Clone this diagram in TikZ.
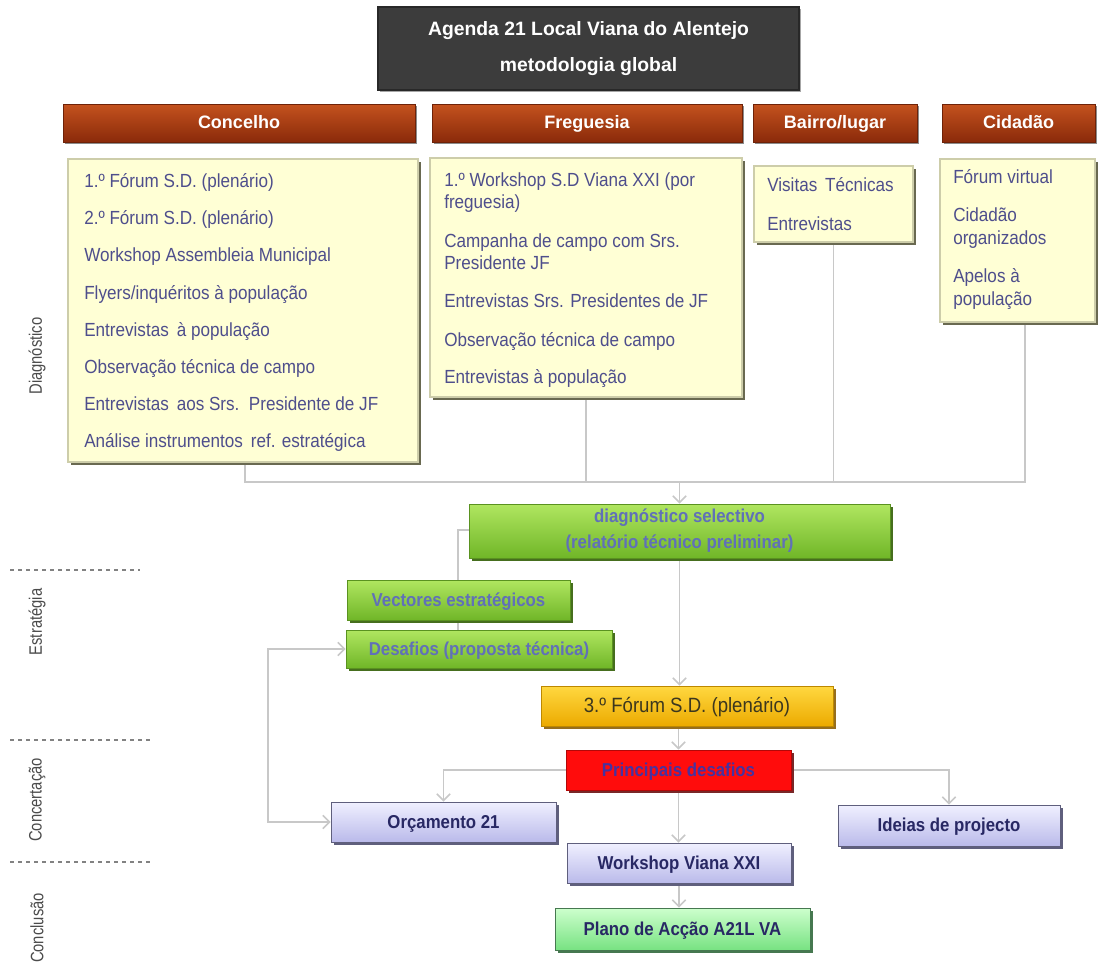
\documentclass[tikz,border=0pt]{standalone}
\usepackage{fontspec}
\setmainfont{Liberation Sans}
\newfontfamily\nar[FakeStretch=0.9]{Liberation Sans}
\newfontfamily\narr[FakeStretch=0.82]{Liberation Sans}
\usetikzlibrary{shadows,arrows.meta,calc}
\pgfdeclarelayer{bg}
\pgfsetlayers{bg,main}
\definecolor{titlebg}{RGB}{60,60,60}
\definecolor{titleedge}{RGB}{40,40,40}
\definecolor{hdrtop}{RGB}{196,82,30}
\definecolor{hdrbot}{RGB}{138,42,10}
\definecolor{ylw}{RGB}{255,255,213}
\definecolor{ylwedge}{RGB}{205,205,170}
\definecolor{ylwshadow}{RGB}{105,105,80}
\definecolor{ytext}{RGB}{78,78,140}
\definecolor{grtop}{RGB}{176,230,96}
\definecolor{grbot}{RGB}{112,182,40}
\definecolor{grshadow}{RGB}{70,110,30}
\definecolor{gtext}{RGB}{96,112,184}
\definecolor{goldtop}{RGB}{255,216,64}
\definecolor{goldbot}{RGB}{236,170,0}
\definecolor{goldshadow}{RGB}{150,110,30}
\definecolor{ftext}{RGB}{60,55,30}
\definecolor{redbox}{RGB}{255,12,12}
\definecolor{redshadow}{RGB}{120,40,40}
\definecolor{ptext}{RGB}{70,50,160}
\definecolor{lavtop}{RGB}{240,240,255}
\definecolor{lavbot}{RGB}{186,186,234}
\definecolor{lavshadow}{RGB}{95,95,125}
\definecolor{navy}{RGB}{40,40,100}
\definecolor{minttop}{RGB}{205,255,205}
\definecolor{mintbot}{RGB}{120,226,130}
\definecolor{mintshadow}{RGB}{70,120,80}
\definecolor{connc}{RGB}{200,200,200}
\definecolor{lbl}{RGB}{75,75,75}
\definecolor{dashc}{RGB}{130,130,130}
\def\pxu{0.75pt}
\tikzset{
  sz/.style 2 args={minimum width=#1*\pxu, minimum height=#2*\pxu},
  basebox/.style={rectangle, inner sep=0pt, anchor=center},
  evenh/.style 2 args={text height=#1pt, text depth=#2pt},
  titlebox/.style={basebox, fill=titlebg, draw=titleedge, line width=0.8pt,
    drop shadow={shadow xshift=1.5pt, shadow yshift=-1.5pt, fill=black, opacity=0.35},
    text=white, align=center, font=\bfseries\fontsize{14.5}{27}\selectfont},
  hdr/.style={basebox, evenh={11.5}{2.8}, top color=hdrtop, bottom color=hdrbot, draw=hdrbot!80!black, line width=0.5pt,
    drop shadow={shadow xshift=1.5pt, shadow yshift=-1.5pt, fill=black, opacity=0.45},
    text=white, font=\bfseries\fontsize{13.5}{15}\selectfont},
  ybox/.style={basebox, fill=ylw, draw=ylwedge, line width=0.8pt,
    drop shadow={shadow xshift=2.2pt, shadow yshift=-2.2pt, fill=ylwshadow, opacity=1}},
  ytxt/.style={anchor=west, inner sep=0pt, evenh={12}{3}, text=ytext, font=\nar\fontsize{14.25}{17}\selectfont},
  gbox/.style={basebox, top color=grtop, bottom color=grbot, draw=grbot!80!black, line width=0.5pt,
    drop shadow={shadow xshift=2pt, shadow yshift=-2pt, fill=grshadow, opacity=1},
    text=gtext, align=center, font=\nar\bfseries\fontsize{14}{19.5}\selectfont},
  g1box/.style={gbox, evenh={12}{3}},
  fbox/.style={basebox, evenh={13}{3.3}, top color=goldtop, bottom color=goldbot, draw=goldbot!80!black, line width=0.5pt,
    drop shadow={shadow xshift=2pt, shadow yshift=-2pt, fill=goldshadow, opacity=1},
    text=ftext, font=\nar\fontsize{15.5}{18}\selectfont},
  rbox/.style={basebox, evenh={12}{3}, fill=redbox, draw=redbox!70!black, line width=0.5pt,
    drop shadow={shadow xshift=2pt, shadow yshift=-2pt, fill=redshadow, opacity=1},
    text=ptext, font=\nar\bfseries\fontsize{14}{16}\selectfont},
  lbox/.style={basebox, evenh={12}{3}, top color=lavtop, bottom color=lavbot, draw=lavshadow, line width=0.5pt,
    drop shadow={shadow xshift=2pt, shadow yshift=-2pt, fill=lavshadow, opacity=1},
    text=navy, font=\nar\bfseries\fontsize{14}{16}\selectfont},
  mbox/.style={basebox, evenh={12}{3}, top color=minttop, bottom color=mintbot, draw=mintshadow, line width=0.5pt,
    drop shadow={shadow xshift=2pt, shadow yshift=-2pt, fill=mintshadow, opacity=1},
    text=navy, font=\nar\bfseries\fontsize{14}{16}\selectfont},
  sidelbl/.style={rotate=90, inner sep=0pt, text=lbl, font=\narr\fontsize{13.5}{15}\selectfont},
  sepline/.style={draw=dashc, line width=1pt, dash pattern=on 3pt off 3pt},
  cline/.style={draw=connc, line width=1.4pt},
  arr/.style={cline, -{Straight Barb[length=5pt,width=10pt,line width=1.2pt]}},
  dblarr/.style={cline, {Straight Barb[length=5pt,width=10pt,line width=1.2pt]}-{Straight Barb[length=5pt,width=10pt,line width=1.2pt]}},
}
\begin{document}
\begin{tikzpicture}[x=0.75pt,y=-0.75pt]
\begin{pgfonlayer}{bg}
\path[use as bounding box, fill=white] (0,0) rectangle (1099,968);
\end{pgfonlayer}

% title
\node[titlebox, sz={421}{83}] (title) at (588.5,48.5) {Agenda 21 Local Viana do Alentejo\\metodologia global};

% headers
\node[hdr, sz={352}{38}] (hconc) at (239,123) {Concelho};
\node[hdr, sz={310}{38}] (hfreg) at (587,123) {Freguesia};
\node[hdr, sz={164}{38}] (hbair) at (835,123) {Bairro/lugar};
\node[hdr, sz={153}{38}] (hcid) at (1018.5,123) {Cidadão};

% yellow boxes
\node[ybox, sz={350}{303}] (concbox) at (243,310.5) {};
\node[ybox, sz={312}{239}] (fregbox) at (586,277.5) {};
\node[ybox, sz={159}{76}] (bairbox) at (833.5,204) {};
\node[ybox, sz={155}{163}] (cidbox) at (1017.5,240.5) {};

% Concelho texts
\node[ytxt] (c1) at (84,181) {1.º Fórum S.D. (plenário)};
\node[ytxt] (c2) at (84,218) {2.º Fórum S.D. (plenário)};
\node[ytxt] (c3) at (84,255) {Workshop Assembleia Municipal};
\node[ytxt] (c4) at (84,293) {Flyers/inquéritos à população};
\node[ytxt] (c5) at (84,330) {Entrevistas\, à população};
\node[ytxt] (c6) at (84,367) {Observação técnica de campo};
\node[ytxt] (c7) at (84,404) {Entrevistas\, aos Srs.\, Presidente de JF};
\node[ytxt] (c8) at (84,441) {Análise instrumentos\, ref. estratégica};

% Freguesia texts
\node[ytxt] (f1) at (444,180) {1.º Workshop S.D Viana XXI (por};
\node[ytxt] (f1b) at (444,202) {freguesia)};
\node[ytxt] (f2) at (444,241) {Campanha de campo com Srs.};
\node[ytxt] (f2b) at (444,263) {Presidente JF};
\node[ytxt] (f3) at (444,301) {Entrevistas Srs. Presidentes de JF};
\node[ytxt] (f4) at (444,340) {Observação técnica de campo};
\node[ytxt] (f5) at (444,377) {Entrevistas à população};

% Bairro texts
\node[ytxt] (b1) at (767,185) {Visitas\, Técnicas};
\node[ytxt] (b2) at (767,224) {Entrevistas};

% Cidadao texts
\node[ytxt] (z1) at (953,177) {Fórum virtual};
\node[ytxt] (z2) at (953,215) {Cidadão};
\node[ytxt] (z2b) at (953,238) {organizados};
\node[ytxt] (z3) at (953,276) {Apelos à};
\node[ytxt] (z3b) at (953,299) {população};

% process boxes
\node[gbox, sz={421}{54}] (diag) at (679.5,531) {diagnóstico selectivo\\(relatório técnico preliminar)};
\node[g1box, sz={223}{40}] (vect) at (458.5,600) {Vectores estratégicos};
\node[g1box, sz={266}{38}] (desaf) at (479,649) {Desafios (proposta técnica)};
\node[fbox, sz={292}{40}] (forum) at (687,706) {3.º Fórum S.D. (plenário)};
\node[rbox, sz={225}{40}] (princ) at (678.5,770) {Principais desafios};
\node[lbox, sz={225}{40}] (orc) at (443.5,822) {Orçamento 21};
\node[lbox, sz={222}{41}] (ideias) at (949,825.5) {Ideias de projecto};
\node[lbox, sz={224}{40}] (work) at (679,863) {Workshop Viana XXI};
\node[mbox, sz={255}{42}] (plano) at (682.5,929) {Plano de Acção A21L VA};

% side labels
\node[sidelbl] (ldiag) at (37,356) {Diagnóstico};
\node[sidelbl] (lestr) at (37,622) {Estratégia};
\node[sidelbl] (lconc) at (37,800) {Concertação};
\node[sidelbl] (lconcl) at (37,928) {Conclusão};
\draw[sepline] (10,570) -- (140,570);
\draw[sepline] (10,740) -- (150,740);
\draw[sepline] (10,862) -- (150,862);

% connectors
\coordinate (busL) at (245,482);
\coordinate (busR) at (1025,482);
\coordinate (dl) at (458,530);
\coordinate (lp) at (268,700);
\begin{pgfonlayer}{bg}
\draw[cline] (concbox.south -| busL) -- (busL) -- (busR) -- (cidbox.south -| busR);
\draw[cline] (fregbox.south) -- (fregbox.south |- busL);
\draw[cline] (bairbox.south) -- (bairbox.south |- busL);
\draw[arr] (diag.north |- busL) -- (diag.north);
\draw[cline] (diag.west |- dl) -- (dl) -- (dl |- desaf.north);
\draw[arr] (diag.south) -- (diag.south |- forum.north);
\draw[arr] (forum.south -| princ.north) -- (princ.north);
\draw[arr] (princ.west) -| (orc.north);
\draw[arr] (princ.east) -| (ideias.north);
\draw[arr] (princ.south) -- (princ.south |- work.north);
\draw[arr] (work.south) -- (work.south |- plano.north);
\draw[dblarr] (desaf.west) -- (desaf.west -| lp) -- (orc.west -| lp) -- (orc.west);
\end{pgfonlayer}
\end{tikzpicture}
\end{document}
